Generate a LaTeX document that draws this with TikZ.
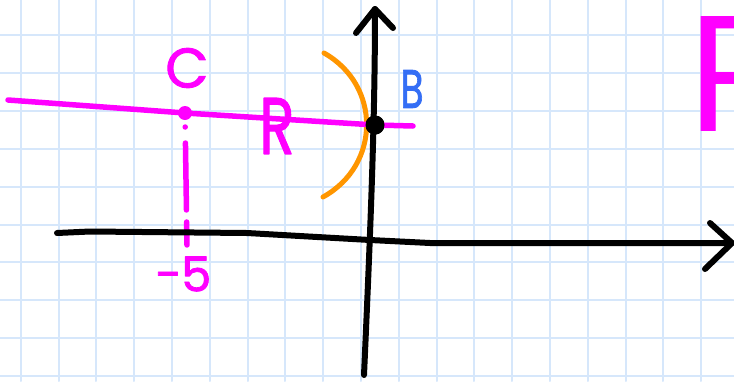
\documentclass[tikz,border=0pt]{standalone}
\usepackage{fontspec}
\setmainfont{Poppins}
\newfontfamily\handfont[FakeBold=1.6]{Poppins}
\definecolor{gridblue}{RGB}{214,231,251}
\definecolor{mag}{RGB}{255,0,255}
\definecolor{org}{RGB}{255,150,0}
\definecolor{bblue}{RGB}{52,110,245}
\begin{document}
\begin{tikzpicture}[x=1pt,y=-1pt,line cap=round,line join=round,
  gridline/.style={gridblue,line width=2pt},
  magpen/.style={mag,line width=5.5pt},
  axispen/.style={black,line width=6pt},
  lbl/.style={inner sep=0pt,font=\handfont\fontsize{50}{50}\selectfont}]
\fill[white] (0,0) rectangle (734,381);
\useasboundingbox (0,0) rectangle (734,381);
\clip (0,0) rectangle (734,381);
% grid paper
\foreach \i in {0,...,18} \draw[gridline] ({20.7+37.8*\i},0) -- ({20.7+37.8*\i},381);
\foreach \j in {0,...,9} \draw[gridline] (0,{35+37.9*\j}) -- (734,{35+37.9*\j});
% coordinates
\coordinate (xl) at (57,233);
\coordinate (xa) at (90,231.5);
\coordinate (xb) at (247,233);
\coordinate (xo) at (370,240);
\coordinate (xc) at (430,243);
\coordinate (xtip) at (732,243);
\coordinate (xw1) at (710,223);
\coordinate (xw2) at (705,269);
\coordinate (yb) at (364,375);
\coordinate (ytip) at (375,9);
\coordinate (yw1) at (356,33);
\coordinate (yw2) at (393,28);
\coordinate (ml) at (8,100);
\coordinate (mr) at (413,126);
\coordinate (m5) at (187,246);
\coordinate (oa) at (324,53);
\coordinate (ob) at (323,197);
% orange arc
\draw[org,line width=5pt] (oa) .. controls (381,85) and (381,165) .. (ob);
% magenta line and C
\node[circle,fill=mag,inner sep=0pt,minimum size=14pt] (cdot) at (185,113) {};
\node[circle,fill=black,inner sep=0pt,minimum size=19pt] (bdot) at (375,125) {};
\draw[magpen] (ml) -- (cdot.center) -- (bdot.center) -- (mr);
\draw[magpen,dash pattern=on 0pt off 14pt on 0pt off 16pt on 67pt off 12pt on 23pt off 60pt] (cdot.center) -- (m5);
% axes
\draw[axispen] (xl) -- (xa) -- (xb) -- (xo) -- (xc) -- (xtip);
\draw[axispen] (xw1) -- (xtip) -- (xw2);
\draw[axispen] (yb) .. controls (370,240) and (375,125) .. (ytip);
\draw[axispen] (yw1) -- (ytip) -- (yw2);
\node[circle,fill=black,inner sep=0pt,minimum size=19pt] at (bdot) {};
% labels
\node[lbl,mag,font=\handfont\fontsize{56}{56}\selectfont] (lc) at (187,68) {C};
\node[lbl,mag,font=\handfont\fontsize{80}{80}\selectfont,xscale=0.72] (lr) at (277,126) {R};
\node[lbl,bblue,xscale=0.7,font=\handfont\fontsize{54}{54}\selectfont] (lb) at (412,89) {B};
\node[lbl,mag,font=\handfont\fontsize{48}{48}\selectfont] (l5) at (183,274) {−5};
\node[mag,inner sep=0pt,anchor=base west,font=\fontsize{165}{165}\selectfont] (lbig) at (688,131) {R};
\end{tikzpicture}
\end{document}
